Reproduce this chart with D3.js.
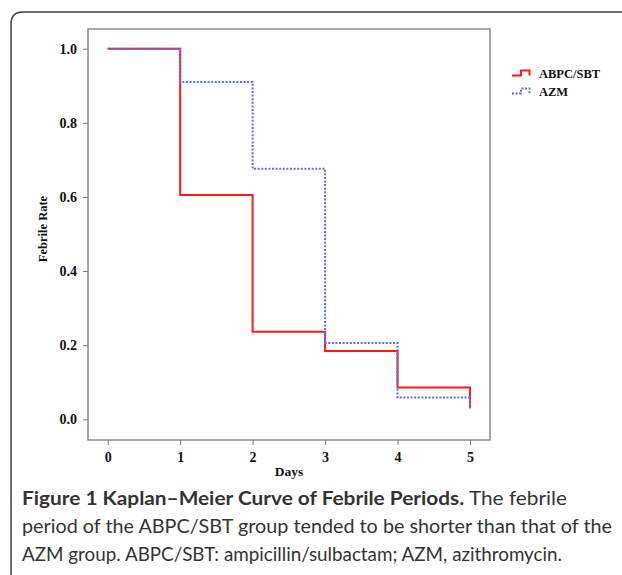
<!DOCTYPE html>
<html>
<head>
<meta charset="utf-8">
<script src="https://cdn.jsdelivr.net/npm/d3@7"></script>
<style>
  body { margin: 0; background: #fff; }
  svg { display: block; }
</style>
</head>
<body>
<svg id="chart" width="622" height="575"></svg>
<script>
const days = [0, 1, 2, 3, 4, 5]
const abpcSbt = [1.0, 0.605, 0.236, 0.184, 0.086, 0.03]
const azm = [1.0, 0.91, 0.676, 0.206, 0.059, 0.03]
const yTicks = [0, 0.2, 0.4, 0.6, 0.8, 1.0]
const groups = ['ABPC/SBT', 'AZM']

const frame = { left: 88, top: 29, right: 490, bottom: 440 }
const serif = '"Liberation Serif", "Times New Roman", serif'
const sans = 'Lato, "Open Sans", sans-serif'

const svg = d3.select('#chart')

// outer figure box, open at right and bottom like the page crop
svg.append('path')
  .attr('d', 'M11,585 V24 Q11,12 23,12 H640')
  .attr('fill', 'none')
  .attr('stroke', '#3c3c3c')
  .attr('stroke-width', 1.5)

const x = d3.scaleLinear().domain([0, 5]).range([107.7, 470])
const y = d3.scaleLinear().domain([0, 1]).range([419.3, 48.7])

// plot frame
svg.append('path')
  .attr('d', `M${frame.left},${frame.top} H${frame.right} V${frame.bottom} H${frame.left} Z`)
  .attr('fill', 'none')
  .attr('stroke', '#8a8a8a')
  .attr('stroke-width', 1.5)

const xAxis = svg.append('g')
  .attr('transform', `translate(0,${frame.bottom})`)
  .call(d3.axisBottom(x).tickValues(days).tickSize(5).tickPadding(7).tickFormat(d3.format('d')))
xAxis.select('.domain').remove()

const yAxis = svg.append('g')
  .attr('transform', `translate(${frame.left},0)`)
  .call(d3.axisLeft(y).tickValues(yTicks).tickSize(5).tickPadding(6).tickFormat(d3.format('.1f')))
yAxis.select('.domain').remove()

svg.selectAll('.tick line').attr('stroke', '#777').attr('stroke-width', 1)
svg.selectAll('.tick text')
  .attr('font-family', serif)
  .attr('font-weight', 'bold')
  .attr('font-size', 14)
  .attr('fill', '#111')

svg.append('text')
  .attr('x', (frame.left + frame.right) / 2)
  .attr('y', 476)
  .attr('text-anchor', 'middle')
  .attr('font-family', serif)
  .attr('font-weight', 'bold')
  .attr('font-size', 13.5)
  .attr('fill', '#111')
  .text('Days')

svg.append('text')
  .attr('transform', 'translate(47,229) rotate(-90)')
  .attr('text-anchor', 'middle')
  .attr('font-family', serif)
  .attr('font-weight', 'bold')
  .attr('font-size', 12.5)
  .attr('fill', '#111')
  .text('Febrile Rate')

const line = d3.line()
  .x((d, i) => x(days[i]))
  .y((d) => y(d))
  .curve(d3.curveStepAfter)

svg.append('path')
  .datum(abpcSbt)
  .attr('d', line)
  .attr('fill', 'none')
  .attr('stroke', '#ff1a1a')
  .attr('stroke-width', 2)

svg.append('path')
  .datum(azm)
  .attr('d', line)
  .attr('fill', 'none')
  .attr('stroke', '#5a6cf7')
  .attr('stroke-width', 2)
  .attr('stroke-dasharray', '2,1.6')

// legend
const legend = svg.append('g')
legend.append('path')
  .attr('d', 'M512,75.5 H521 V70.5 H529.5 V75.5')
  .attr('fill', 'none')
  .attr('stroke', '#ff1a1a')
  .attr('stroke-width', 2)
legend.append('path')
  .attr('d', 'M512,93.5 H521 V88.5 H529.5 V93.5')
  .attr('fill', 'none')
  .attr('stroke', '#5a6cf7')
  .attr('stroke-width', 2)
  .attr('stroke-dasharray', '2,1.6')
legend.selectAll('text')
  .data(groups)
  .enter()
  .append('text')
  .attr('x', 539)
  .attr('y', (d, i) => 78 + i * 18)
  .attr('font-family', serif)
  .attr('font-weight', 'bold')
  .attr('font-size', 12.5)
  .attr('fill', '#111')
  .text((d) => d)

// caption
const caption = svg.append('g')
  .attr('font-family', sans)
  .attr('font-size', 19.5)
  .attr('fill', '#333')

const l1 = caption.append('text').attr('x', 22).attr('y', 505)
  .attr('textLength', 545).attr('lengthAdjust', 'spacingAndGlyphs')
l1.append('tspan').attr('font-weight', 'bold').text('Figure 1 Kaplan–Meier Curve of Febrile Periods.')
l1.append('tspan').text(' The febrile')

caption.append('text').attr('x', 22).attr('y', 533)
  .attr('textLength', 590).attr('lengthAdjust', 'spacingAndGlyphs')
  .text('period of the ABPC/SBT group tended to be shorter than that of the')

caption.append('text').attr('x', 22).attr('y', 561)
  .attr('textLength', 540).attr('lengthAdjust', 'spacingAndGlyphs')
  .text('AZM group. ABPC/SBT: ampicillin/sulbactam; AZM, azithromycin.')
</script>
</body>
</html>
